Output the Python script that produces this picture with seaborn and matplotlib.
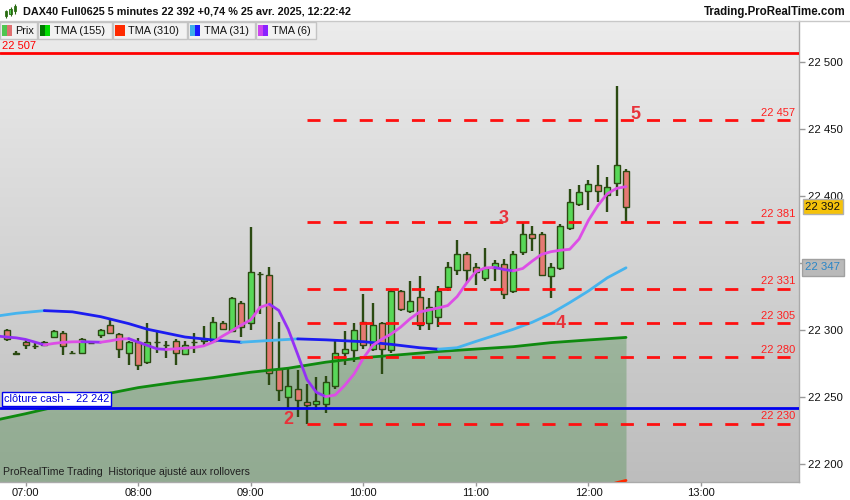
import numpy as np
import pandas as pd
import matplotlib
matplotlib.use("Agg")
import matplotlib.pyplot as plt
import matplotlib.dates as mdates
import matplotlib.transforms as mtransforms
from matplotlib.patches import Rectangle
import seaborn as sns

sns.set_theme(style="white")
plt.rcParams["font.family"] = ["Liberation Sans", "DejaVu Sans"]

DAY = "2025-04-25 "

# ───────────────────────────────────────────────────────────────
# Bougies 5 minutes, de 06:50 à 12:20
# ───────────────────────────────────────────────────────────────
bar_start = "06:50"
opens = [22300, 22282, 22291, 22288, 22289, 22295, 22298, 22283, 22283, 22290,
         22296, 22304, 22297, 22283, 22291, 22276, 22291, 22289, 22292, 22282,
         22291, 22292, 22292, 22305, 22299, 22320, 22305, 22342, 22341, 22271,
         22250, 22256, 22246, 22245, 22245, 22258, 22283, 22285, 22306, 22286,
         22305, 22285, 22329, 22314, 22325, 22305, 22310, 22332, 22345, 22357,
         22347, 22339, 22346, 22349, 22329, 22358, 22372, 22372, 22340, 22346,
         22376, 22394, 22404, 22408, 22401, 22410, 22419]
highs = [22301, 22284, 22293, 22290, 22292, 22300, 22299, 22284, 22294, 22290.5,
         22301, 22308, 22298, 22292, 22294, 22305, 22299, 22292, 22293, 22292,
         22298, 22303, 22310, 22307, 22325, 22322, 22377, 22343, 22347, 22306,
         22272, 22270, 22260, 22265, 22266, 22293, 22299, 22305, 22327, 22320,
         22306, 22330, 22330, 22337, 22340, 22324, 22333, 22351, 22367, 22358,
         22350, 22361, 22352, 22353, 22359, 22381, 22378, 22373, 22350, 22379,
         22405, 22408, 22412, 22423, 22414, 22482, 22420]
lows = [22292, 22281, 22286, 22286, 22288, 22294, 22281, 22282, 22282, 22289.5,
        22294, 22297, 22279, 22274, 22270, 22275, 22283, 22279, 22274, 22282,
        22283, 22288, 22292, 22300, 22299, 22295, 22300, 22312, 22259, 22247,
        22242, 22235, 22230, 22240, 22238, 22256, 22274, 22276, 22286, 22284,
        22267, 22283, 22314, 22313, 22300, 22300, 22302, 22329, 22341, 22335,
        22334, 22337, 22337, 22323, 22328, 22356, 22359, 22341, 22324, 22345,
        22375, 22393, 22390, 22396, 22388, 22400, 22381]
closes = [22293, 22283, 22289, 22288, 22291, 22299, 22288, 22283, 22293, 22290,
          22300, 22298, 22286, 22291, 22274, 22291, 22291, 22289, 22283, 22289,
          22291, 22293, 22306, 22301, 22324, 22302, 22343, 22342, 22268, 22255,
          22258, 22248, 22244, 22247, 22261, 22283, 22286, 22300, 22289, 22304,
          22286, 22329, 22316, 22322, 22304, 22317, 22329, 22347, 22357, 22345,
          22343, 22346, 22350, 22327, 22357, 22372, 22369, 22341, 22347, 22378,
          22396, 22403, 22409, 22404, 22407, 22423, 22392]

# TMA (6) : une valeur par barre, de 06:45 à 12:20
tma6_start = "06:45"
tma6 = [22295.5, 22294.8, 22294.2, 22293.0, 22291.0, 22288.9, 22290.0, 22290.8,
        22291.2, 22291.3, 22291.1, 22290.9, 22291.9, 22293.2, 22293.6, 22291.0,
        22288.5, 22286.0, 22285.5, 22286.0, 22286.5, 22287.0, 22288.2, 22291.0,
        22295.5, 22299.5, 22303.8, 22307.6, 22317.0, 22319.3, 22314.6, 22300.5,
        22282.0, 22263.0, 22253.5, 22250.3, 22251.5, 22258.5, 22267.0, 22279.0,
        22288.5, 22293.3, 22297.2, 22302.3, 22308.5, 22313.5, 22315.0, 22316.5,
        22318.3, 22325.0, 22335.0, 22343.6, 22346.4, 22346.8, 22345.2, 22344.2,
        22346.0, 22351.5, 22356.5, 22358.5, 22359.6, 22360.3, 22368.0, 22382.0,
        22393.0, 22401.8, 22405.8, 22407.1]

# TMA (31) : relevés ponctuels
tma31_times = ["06:45", "06:55", "07:10", "07:25", "07:40", "07:55", "08:05",
               "08:15", "08:25", "08:40", "08:55", "09:10", "09:25", "09:40",
               "10:00", "10:15", "10:30", "10:40", "10:50", "11:00", "11:10",
               "11:20", "11:30", "11:40", "11:50", "12:00", "12:10", "12:20"]
tma31 = [22310.5, 22312.5, 22314.5, 22313.6, 22310.0, 22304.8, 22300.6,
         22297.7, 22294.8, 22292.6, 22290.9, 22292.2, 22293.4, 22292.7,
         22291.3, 22289.3, 22286.8, 22285.7, 22286.8, 22291.5, 22296.0,
         22300.6, 22305.8, 22312.3, 22320.5, 22329.2, 22339.0, 22346.5]

# TMA (155) : relevés toutes les 20 minutes
tma155_times = ["06:45", "07:00", "07:20", "07:40", "08:00", "08:20", "08:40",
                "09:00", "09:20", "09:40", "10:00", "10:20", "10:40", "11:00",
                "11:20", "11:40", "12:00", "12:20"]
tma155 = [22233.0, 22237.5, 22244.0, 22251.5, 22257.0, 22261.0, 22264.5,
          22268.5, 22271.5, 22276.0, 22279.4, 22281.6, 22284.0, 22285.8,
          22287.6, 22290.6, 22292.6, 22294.5]

# TMA (310) : n'apparaît qu'au bas du graphique
tma310_times = ["12:00", "12:10", "12:15", "12:20"]
tma310 = [22180.0, 22184.0, 22186.0, 22187.7]

# Niveaux horizontaux
niveau_haut = 22507
cloture_cash = 22242
niveaux = [22457, 22381, 22331, 22305, 22280, 22230]
niveaux_depuis = "09:30"
reperes = ["2", "3", "4", "5"]
reperes_t = ["09:20", "11:15", "11:45", "12:25"]
reperes_p = [22233, 22383, 22305, 22461]

dernier = 22392
tma31_dernier = 22347
yticks = [22200, 22250, 22300, 22350, 22400, 22450, 22500]

# ───────────────────────────────────────────────────────────────
def t2n(hhmm):
    return mdates.date2num(pd.Timestamp(DAY + hhmm))

def fmt(v):
    return f"{v:,}".replace(",", " ")

bar_t = mdates.date2num(pd.date_range(DAY + bar_start, periods=len(opens), freq="5min"))
tma6_t = mdates.date2num(pd.date_range(DAY + tma6_start, periods=len(tma6), freq="5min"))
tma31_t = np.array([t2n(t) for t in tma31_times])
tma155_t = np.array([t2n(t) for t in tma155_times])
tma310_t = np.array([t2n(t) for t in tma310_times])
five = 5 / 1440

W, H = 850, 500
fig = plt.figure(figsize=(8.5, 5), dpi=100)
fig.patch.set_facecolor("white")

def fx(px):
    return px / W

def fy(py):
    return 1 - py / H

ax = fig.add_axes([0, fy(482.3), fx(799.3), (482.3 - 21) / H])
x_left = t2n("07:00") - 2.72 * five
x_right = t2n("07:00") + 82.47 * five
y_bas, y_haut = 22186.3, 22530.8

# fond dégradé
grad = np.linspace(0, 1, 256).reshape(-1, 1)
cmap_bg = matplotlib.colors.LinearSegmentedColormap.from_list("bg", ["#ececec", "#bdbdbd"])
ax.imshow(grad, extent=[0, 1, 0, 1], transform=ax.transAxes, aspect="auto",
          cmap=cmap_bg, zorder=0)
ax.set_ylim(y_bas, y_haut)
ax.set_xlim(x_left, x_right)

# remplissage sous la TMA 155
ax.fill_between(tma155_t, tma155, y_bas, color="#1e781e", alpha=0.27, lw=0, zorder=1)

# ── bougies
o = np.array(opens); c = np.array(closes)
up = c >= o
wick = "#2b4a12"
ax.vlines(bar_t, lows, highs, color=wick, lw=1.7, zorder=3)
ax.bar(bar_t, np.abs(c - o), bottom=np.minimum(o, c), width=five * 0.64,
       color=np.where(up, "#58d858", "#e57a73"), edgecolor=wick, lw=1.0, zorder=4)

# ── moyennes mobiles colorées selon la pente
def trace_pente(t, v, c_up, c_dn, lw=2.0, z=6):
    v = np.asarray(v, float)
    d = np.sign(np.diff(v))
    for k in range(1, len(d)):
        if d[k] == 0:
            d[k] = d[k - 1]
    start = 0
    for k in range(1, len(d) + 1):
        if k == len(d) or d[k] != d[start]:
            sl = slice(start, k + 1)
            sns.lineplot(x=t[sl], y=v[sl], ax=ax, color=c_up if d[start] >= 0 else c_dn,
                         lw=lw, zorder=z, legend=False)
            start = k

sns.lineplot(x=tma155_t, y=tma155, ax=ax, color="#0f8a0f", lw=2.0, zorder=5)
sns.lineplot(x=tma310_t, y=tma310, ax=ax, color="#ff2a00", lw=2.0, zorder=5)
trace_pente(tma31_t, tma31, "#46b4ee", "#1c1cf0")
trace_pente(tma6_t, tma6, "#dd4ee6", "#9430f5")

# ── niveaux
ax.axhline(niveau_haut, color="#ff0000", lw=2.0, zorder=7)
ax.axhline(cloture_cash, color="#0000ee", lw=2.0, zorder=7)
ax.hlines(niveaux, t2n(niveaux_depuis), x_right, colors="#ff1010",
          lw=2.0, linestyles=(0, (4.7, 4.7)), zorder=7)

blend = mtransforms.blended_transform_factory(ax.transAxes, ax.transData)
for lv in niveaux:
    ax.text(0.995, lv + 3.2, fmt(lv), transform=blend,
            ha="right", va="baseline", color="#ff2020", fontsize=8.0, zorder=8)

for lab, t, p in zip(reperes, reperes_t, reperes_p):
    ax.text(t2n(t), p, lab, ha="center", va="center", color="#e8323a",
            fontsize=13, fontweight="bold", zorder=8)

ax.text(0.003, niveau_haut + 3.2, fmt(niveau_haut), transform=blend,
        ha="left", va="baseline", color="#ff0000", fontsize=8.0, zorder=8)
ax.text(0.005, cloture_cash + 2.6, f"clôture cash -  {fmt(cloture_cash)}",
        transform=blend, ha="left", va="bottom", color="#0000dd", fontsize=7.9, zorder=9,
        bbox=dict(boxstyle="square,pad=0.18", fc="white", ec="#0000ee", lw=1))
ax.text(0.004, 0.012, "ProRealTime Trading  Historique ajusté aux rollovers",
        transform=ax.transAxes, ha="left", va="bottom", color="#202020", fontsize=7.6, zorder=9)

# ── axes
ax.yaxis.tick_right()
ax.set_yticks(yticks)
ax.set_yticklabels([fmt(v) for v in yticks])
ax.xaxis.set_major_locator(mdates.HourLocator())
ax.xaxis.set_major_formatter(mdates.DateFormatter("%H:%M"))
ax.tick_params(axis="y", which="major", length=4, width=1, color="#999999",
               labelsize=8.2, labelcolor="#111111", pad=2, right=True, left=False)
ax.tick_params(axis="x", which="major", length=3, width=1, color="#999999",
               labelsize=8.0, labelcolor="#111111", pad=1, bottom=True)
ax.set_xlabel(""); ax.set_ylabel("")
for s in ["left", "top"]:
    ax.spines[s].set_visible(False)
for s in ["right", "bottom"]:
    ax.spines[s].set_color("#aaaaaa")
    ax.spines[s].set_linewidth(1)

ax.text(1.0075, dernier, fmt(dernier), transform=blend, ha="left",
        va="center", fontsize=8.2, color="#111111", clip_on=False, zorder=10,
        bbox=dict(boxstyle="square,pad=0.22", fc="#f5c20a", ec="#b0b0b0", lw=1))
ax.text(1.0075, tma31_dernier, fmt(tma31_dernier), transform=blend,
        ha="left", va="center", fontsize=8.2, color="#2a86c8", clip_on=False, zorder=10,
        bbox=dict(boxstyle="square,pad=0.3", fc="#b9b9b9", ec="#a0a0a0", lw=1))

# ── en-tête
fig.add_artist(Rectangle((0, fy(21)), 1, 21 / H, transform=fig.transFigure,
                         fc="white", ec="none", zorder=0))
fig.add_artist(plt.Line2D([0, 1], [fy(21), fy(21)], transform=fig.transFigure,
                          color="#c8c8c8", lw=1))
fig.text(fx(23), fy(11.5), "DAX40 Full0625 5 minutes 22 392 +0,74 % 25 avr. 2025, 12:22:42",
         ha="left", va="center", fontsize=7.8, fontweight="bold", color="#111111")
fig.text(fx(846), fy(11.5), "Trading.ProRealTime.com", ha="right", va="center",
         fontsize=8.3, fontweight="bold", color="#111111")

icone_o = [1, 2, 3]
icone_c = [3, 4, 5]
ax_ic = fig.add_axes([fx(3), fy(19), fx(15), 16 / H])
ax_ic.vlines(range(3), [0.5, 1.2, 2.0], [3.5, 4.8, 5.8], color="#2b6a12", lw=0.8)
ax_ic.bar(range(3), np.subtract(icone_c, icone_o), bottom=icone_o, width=0.55,
          color="#58d858", edgecolor="#2b6a12", lw=0.6)
ax_ic.set_xlim(-0.6, 2.6); ax_ic.set_ylim(0, 6.2)
ax_ic.axis("off")

# ── légende des indicateurs
legende = ["Prix", "TMA (155)", "TMA (310)", "TMA (31)", "TMA (6)"]
leg_x0 = [0, 38, 113, 188, 256]
leg_x1 = [37, 112, 187, 255, 316]
leg_c = [("#4fc64f", "#e07070"), ("#007a00", "#00dd00"), ("#ff2a00", "#ff2a00"),
         ("#3daee9", "#1a1aff"), ("#cc44ee", "#8a22ff")]
for lab, a, b, (c1, c2) in zip(legende, leg_x0, leg_x1, leg_c):
    fig.add_artist(Rectangle((fx(a), fy(38.5)), fx(b - a), 16.5 / H, transform=fig.transFigure,
                             fc="#f2f2f2", ec="#c4c4c4", lw=1, zorder=20))
    fig.add_artist(Rectangle((fx(a + 2), fy(35.5)), fx(5), 10 / H, transform=fig.transFigure,
                             fc=c1, ec="none", zorder=21))
    fig.add_artist(Rectangle((fx(a + 7), fy(35.5)), fx(5), 10 / H, transform=fig.transFigure,
                             fc=c2, ec="none", zorder=21))
    fig.text(fx(a + 15.5), fy(30.5), lab, ha="left", va="center", fontsize=7.8,
             color="#111111", zorder=22)

fig.savefig("out.png", dpi=100)
